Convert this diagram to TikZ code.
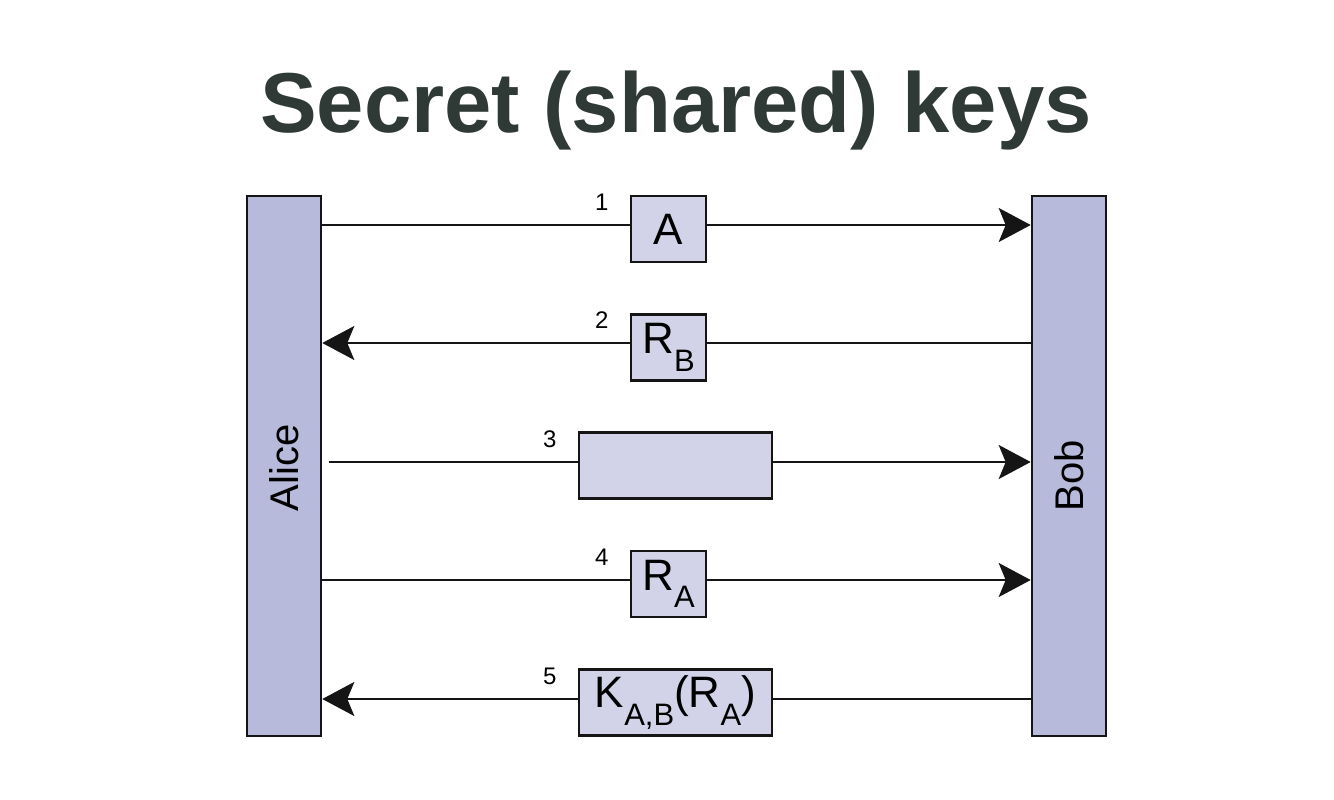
\documentclass[tikz,border=0pt]{standalone}
\usepackage{fontspec}
\setmainfont{Liberation Sans}
\usetikzlibrary{arrows.meta}
\definecolor{barfill}{HTML}{B8BADB}
\definecolor{boxfill}{HTML}{D2D3E8}
\definecolor{titlecol}{HTML}{2F3A37}
\definecolor{edge}{HTML}{151515}
\newcommand{\sbs}[1]{\raisebox{-0.4em}{\fontsize{31}{31}\selectfont #1}}
\tikzset{
  bar/.style={draw=edge, line width=2.6pt, fill=barfill, minimum width=74pt, minimum height=540pt, inner sep=0pt},
  msgbox/.style={draw=edge, line width=2.4pt, fill=boxfill, minimum height=66pt, inner sep=0pt, font=\fontsize{44}{44}\selectfont},
  msg/.style={draw=edge, line width=2.2pt},
  msgarrow/.style={msg, -{Stealth[length=32pt, width=34pt, inset=7pt]}},
  num/.style={font=\fontsize{24}{24}\selectfont, inner sep=0pt},
  actor/.style={rotate=90, font=\fontsize{40}{40}\selectfont, inner sep=0pt}
}
\begin{document}
\begin{tikzpicture}[x=1pt,y=-1pt]
\useasboundingbox (0,0) rectangle (1334,800);
\node[font=\bfseries\fontsize{85}{85}\selectfont, text=titlecol] (title) at (676,111) {Secret (shared) keys};
\node[bar] (alice) at (284,466) {};
\node[bar] (bob) at (1069,466) {};
\node[actor] (alicet) at (284,468) {Alice};
\node[actor] (bobt) at (1069,476) {Bob};
% message boxes
\node[msgbox, minimum width=75pt] (b1) at (668.5,229) {A};
\node[msgbox, minimum width=75pt] (b2) at (668.5,347.5) {R\sbs{B}};
\node[msgbox, minimum width=193pt] (b3) at (675.5,465.5) {};
\node[msgbox, minimum width=75pt] (b4) at (668.5,584) {R\sbs{A}};
\node[msgbox, minimum width=193pt] (b5) at (675.5,702.5) {K\sbs{A,B}(R\sbs{A})};
% arrow heights
\coordinate (y1) at (0,225);
\coordinate (y2) at (0,343);
\coordinate (y3) at (0,462);
\coordinate (y4) at (0,580);
\coordinate (y5) at (0,699);
\coordinate (s3) at (329,462);
% connectors
\draw[msg] (alice.east |- y1) -- (b1.west |- y1);
\draw[msgarrow] (b1.east |- y1) -- (bob.west |- y1);
\draw[msg] (bob.west |- y2) -- (b2.east |- y2);
\draw[msgarrow] (b2.west |- y2) -- (alice.east |- y2);
\draw[msg] (s3) -- (b3.west |- y3);
\draw[msgarrow] (b3.east |- y3) -- (bob.west |- y3);
\draw[msg] (alice.east |- y4) -- (b4.west |- y4);
\draw[msgarrow] (b4.east |- y4) -- (bob.west |- y4);
\draw[msg] (bob.west |- y5) -- (b5.east |- y5);
\draw[msgarrow] (b5.west |- y5) -- (alice.east |- y5);
% numbers
\node[num] (n1) at ([xshift=-28pt]b1.west |- 0,202) {1};
\node[num] (n2) at ([xshift=-28pt]b2.west |- 0,320) {2};
\node[num] (n3) at ([xshift=-28pt]b3.west |- 0,439) {3};
\node[num] (n4) at ([xshift=-28pt]b4.west |- 0,557) {4};
\node[num] (n5) at ([xshift=-28pt]b5.west |- 0,676) {5};
\end{tikzpicture}
\end{document}
